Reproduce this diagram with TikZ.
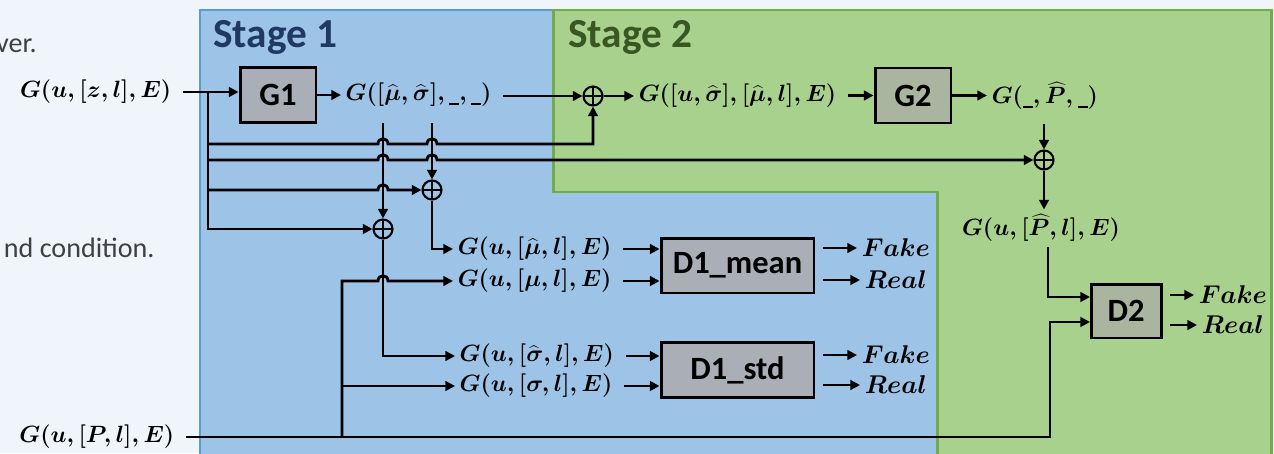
\RequirePackage{fix-cm}
\documentclass[tikz,border=0pt]{standalone}
\usepackage{fontspec}
\newfontfamily\carlito{Carlito}
\usetikzlibrary{arrows.meta,calc}
\definecolor{pagebg}{HTML}{F0F5FC}
\definecolor{bluefill}{HTML}{9DC3E6}
\definecolor{blueedge}{HTML}{5B9BD5}
\definecolor{greenfill}{HTML}{A9D18E}
\definecolor{greenedge}{HTML}{70AD47}
\definecolor{stageblue}{HTML}{1F3864}
\definecolor{stagegreen}{HTML}{385723}
\definecolor{boxblue}{HTML}{AAAFB7}
\definecolor{boxgreen}{HTML}{AAB5A0}
\definecolor{bodytext}{HTML}{404040}
% short placeholder bar used in the signal tuples
\newcommand{\ublank}{\mbox{\rule[-2.2pt]{0.42em}{0.9pt}}}
\tikzset{
  wire/.style={line width=1.6pt, black},
  arr/.style={wire, -{Triangle[length=5.5pt,width=5.5pt]}},
  blk/.style={draw=black, line width=1.7pt, inner sep=0pt,
    font=\carlito\bfseries\fontsize{18.5}{20}\selectfont},
  gbox/.style={blk, minimum width=1.52cm, minimum height=1.1cm},
  lbl/.style={inner sep=2.5pt, font=\fontsize{13.4}{16}\selectfont\boldmath},
  verdict/.style={lbl, anchor=west, font=\fontsize{14.6}{16}\selectfont\boldmath},
  sum/.style={circle, draw, line width=1.2pt, minimum size=0.38cm, inner sep=0pt,
    path picture={\draw[line width=1.2pt]
      (path picture bounding box.north) -- (path picture bounding box.south)
      (path picture bounding box.west) -- (path picture bounding box.east);}},
  stagetitle/.style={anchor=base west, inner sep=0pt,
    font=\carlito\bfseries\fontsize{23.5}{26}\selectfont},
  bodyfont/.style={anchor=base east, inner sep=0pt, text=bodytext,
    font=\carlito\fontsize{16}{18}\selectfont},
}
\begin{document}
\begin{tikzpicture}[x=0.02cm, y=-0.02cm]
\useasboundingbox (0,0) rectangle (1274,453);
\clip (0,0) rectangle (1274,453);
\fill[pagebg] (0,0) rectangle (1274,453);

% stage regions
\draw[fill=bluefill, draw=blueedge, line width=1.7pt]
  (200,10) -- (553,10) -- (553,192) -- (937,192) -- (937,480) -- (200,480) -- cycle;
\draw[fill=greenfill, draw=greenedge, line width=1.7pt]
  (553,10) -- (1271,10) -- (1271,480) -- (937,480) -- (937,192) -- (553,192) -- cycle;

% surrounding body text
\node[bodyfont] (t1) at (37,52) {ver.};
\node[bodyfont] (t2) at (155,257) {nd condition.};

\node[stagetitle, text=stageblue] (s1) at (213,47) {Stage 1};
\node[stagetitle, text=stagegreen] (s2) at (568,47) {Stage 2};

% blocks
\node[gbox, fill=boxblue] (G1) at (278,95) {G1};
\node[gbox, fill=boxgreen] (G2) at (913,95.5) {G2};
\node[blk, fill=boxblue, minimum width=3.06cm, minimum height=1.1cm] (D1m) at (737.5,265.5) {D1\_mean};
\node[blk, fill=boxblue, minimum width=3.06cm, minimum height=1.1cm] (D1s) at (737.5,370) {D1\_std};
\node[blk, fill=boxgreen, minimum width=1.4cm, minimum height=1.08cm] (D2) at (1126,311) {D2};

% signals
\node[lbl, anchor=east] (in1) at (176,92) {$G(u,[z,l],E)$};
\node[lbl, anchor=east] (in2) at (179,437) {$G(u,[P,l],E)$};
\node[lbl, anchor=west] (out1) at (341,95) {$G([\widehat{\mu},\widehat{\sigma}],\ublank,\ublank)$};
\node[lbl, anchor=west] (l2) at (634,96) {$G([u,\widehat{\sigma}],[\widehat{\mu},l],E)$};
\node[lbl, anchor=west] (lP) at (987,96) {$G(\ublank,\widehat{P},\ublank)$};
\node[lbl] (lPl) at (1041,228) {$G(u,[\widehat{P},l],E)$};
\node[lbl, anchor=west] (lmuh) at (453,249) {$G(u,[\widehat{\mu},l],E)$};
\node[lbl, anchor=west] (lmu) at (453,281) {$G(u,[\mu,l],E)$};
\node[lbl, anchor=west] (lsigh) at (455,356) {$G(u,[\widehat{\sigma},l],E)$};
\node[lbl, anchor=west] (lsig) at (455,386) {$G(u,[\sigma,l],E)$};

% outputs
\node[verdict] (f1) at (857,248) {$Fake$};
\node[verdict] (r1) at (860,280) {$Real$};
\node[verdict] (f2) at (857,355) {$Fake$};
\node[verdict] (r2) at (860,385) {$Real$};
\node[verdict] (f3) at (1194,295) {$Fake$};
\node[verdict] (r3) at (1197,325) {$Real$};

% summing junctions
\node[sum] (sA) at (593,96) {};
\node[sum] (sB) at (1044,160) {};
\node[sum] (sC) at (432,190) {};
\node[sum] (sD) at (383,229) {};

% branch points
\coordinate (t0) at (208,92);
\coordinate (b1) at (208,144);
\coordinate (b2) at (208,160);
\coordinate (b3) at (208,190);
\coordinate (m1) at (383,123);
\coordinate (m2) at (432,123);
\coordinate (j1) at (342,437);
\coordinate (j2) at (342,386);
\coordinate (p1) at (1044,124);
\coordinate (p2) at (1048,247);
\coordinate (q1) at (1090,297);
\coordinate (q2) at (1090,322);

% stage 1 generator
\draw[arr, shorten <=4pt] (in1.east) -- (G1.west |- in1.east);
\draw[arr] (t0) |- (sD.west);
\draw[arr] (b1) -- (378,144) .. controls (378,137) and (388,137) .. (388,144)
  -- (427,144) .. controls (427,137) and (437,137) .. (437,144) -| (sA.south);
\draw[arr] (b2) -- (378,160) .. controls (378,153) and (388,153) .. (388,160)
  -- (427,160) .. controls (427,153) and (437,153) .. (437,160) -- (sB.west);
\draw[arr] (b3) -- (378,190) .. controls (378,183) and (388,183) .. (388,190) -- (sC.west);
\draw[arr] (G1.east) -- (out1.west |- G1.east);
\draw[arr] (m1) -- (sD.north);
\draw[arr] (m2) -- (sC.north);
\draw[arr] (sC.south) |- (lmuh.west);
\draw[arr] (sD.south) |- (lsigh.west);

% real data paths
\draw[arr, shorten <=4pt] (in2.east) -| (1050,322) -- (q2);
\draw[arr] (j1) -- (342,281) -- (378,281) .. controls (378,274) and (388,274) .. (388,281) -- (lmu.west);
\draw[arr] (j2) -- (lsig.west);

% stage 2
\draw[arr, shorten <=4pt] (out1.east |- sA) -- (sA.west);
\draw[arr] (sA.east) -- (l2.west |- sA);
\draw[arr, shorten <=4pt] (l2.east |- G2) -- (G2.west);
\draw[arr] (G2.east) -- (lP.west |- G2);
\draw[arr] (p1) -- (sB.north);
\draw[arr] (sB.south) -- (lPl.north -| sB);
\draw[arr] (p2) |- (q1);

% discriminators
\draw[arr, shorten <=4pt] (lmuh.east) -- (D1m.west |- lmuh.east);
\draw[arr, shorten <=4pt] (lmu.east) -- (D1m.west |- lmu.east);
\draw[arr, shorten <=4pt] (lsigh.east) -- (D1s.west |- lsigh.east);
\draw[arr, shorten <=4pt] (lsig.east) -- (D1s.west |- lsig.east);
\draw[arr, shorten <=4pt] (D1m.east |- f1) -- (f1.west);
\draw[arr, shorten <=4pt] (D1m.east |- r1) -- (r1.west);
\draw[arr, shorten <=4pt] (D1s.east |- f2) -- (f2.west);
\draw[arr, shorten <=4pt] (D1s.east |- r2) -- (r2.west);
\draw[arr, shorten <=4pt] (D2.east |- f3) -- (f3.west);
\draw[arr, shorten <=4pt] (D2.east |- r3) -- (r3.west);
\end{tikzpicture}
\end{document}
